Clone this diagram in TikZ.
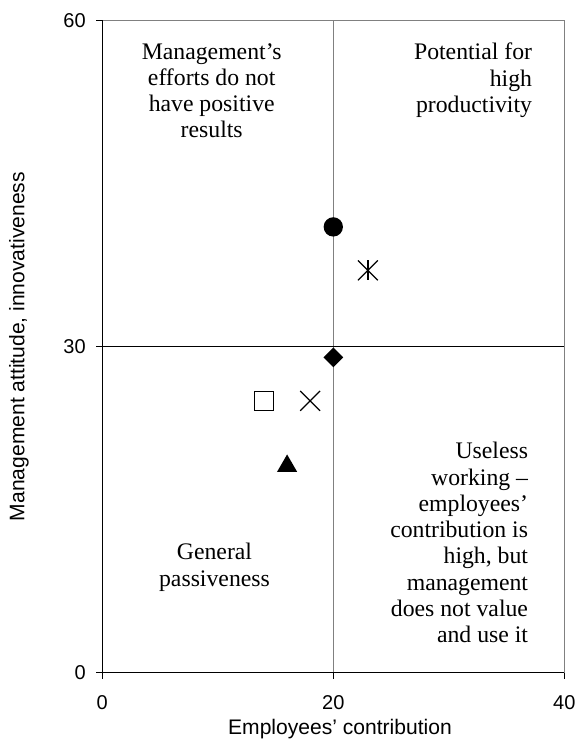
\documentclass[tikz,border=0pt]{standalone}
\usepackage{fontspec}
\setmainfont{Liberation Serif}
\newfontfamily\axfont{Liberation Sans}
\usetikzlibrary{shapes.geometric,shapes.misc}
\tikzset{
  axisline/.style={line width=0.8pt, draw=black},
  frameline/.style={line width=0.8pt, draw=black!50},
  ticklab/.style={font=\axfont\fontsize{15}{18}\selectfont, inner sep=0pt},
  axtitle/.style={font=\axfont\fontsize{15.8}{19}\selectfont, inner sep=0pt},
  quad/.style={font=\fontsize{17.8}{19.7}\selectfont, inner sep=0pt},
  mkcircle/.style={circle, fill=black, minimum size=14.5pt, inner sep=0pt},
  mksquare/.style={rectangle, draw=black, fill=white, line width=0.9pt, minimum size=14pt, inner sep=0pt},
  mkdiamond/.style={diamond, fill=black, minimum width=15pt, minimum height=15pt, inner sep=0pt},
  mktri/.style={regular polygon, regular polygon sides=3, fill=black, minimum size=17.5pt, inner sep=0pt},
  mkx/.style={cross out, draw=black, line width=0.9pt, minimum width=14pt, minimum height=14pt, inner sep=0pt},
  mkline/.style={draw=black, line width=0.9pt}
}
\begin{document}
\begin{tikzpicture}[x=0.75pt,y=-0.75pt]
\useasboundingbox[fill=white] (0,0) rectangle (575,743);
% data scope
\begin{scope}[shift={(102.3,672.7)}, x=8.6625pt, y=8.155pt]
  % frame
  \draw[frameline] (0,60) -- (40,60) -- (40,0);
  % dividing lines
  \draw[frameline] (20,0) -- (20,60);
  \draw[axisline] (0,30) -- (40,30);
  % axes
  \draw[axisline] (0,60) -- (0,0) -- (40,0);
  \foreach \yy in {0,30,60} \draw[axisline] (0,\yy) -- ++(-5pt,0);
  \foreach \xx in {0,20,40} \draw[axisline] (\xx,0) -- ++(0,-5pt);
  % markers
  \node[mkcircle] (m1) at (20,41) {};
  \node[mkx] (m2) at (23,37) {};
  \draw[mkline] (m2.north) -- (m2.south);
  \node[mkdiamond] (m3) at (20,29) {};
  \node[mksquare] (m4) at (14,25) {};
  \node[mkx] (m5) at (18,25) {};
  \node[mktri] (m6) at (16,19) {};
\end{scope}
% tick labels
\node[ticklab, anchor=east] (y0) at (86,672.7) {0};
\node[ticklab, anchor=east] (y30) at (86,346.5) {30};
\node[ticklab, anchor=east] (y60) at (86,20.3) {60};
\node[ticklab] (x0) at (102.3,703) {0};
\node[ticklab] (x20) at (333.3,703) {20};
\node[ticklab] (x40) at (564.3,703) {40};
% axis titles
\node[axtitle] (xt) at (340,729) {Employees’ contribution};
\node[axtitle, rotate=90] (yt) at (19,346.5) {Management attitude, innovativeness};
% quadrant texts
\node[quad, align=center, anchor=north] (tl) at (211.7,43) {Management’s\\efforts do not\\have positive\\results};
\node[quad, align=right, anchor=north east] (tr) at (532.3,43) {Potential for\\high\\productivity};
\node[quad, align=right, anchor=north east] (br) at (528.3,442) {Useless\\working –\\employees’\\contribution is\\high, but\\management\\does not value\\and use it};
\node[quad, align=center, anchor=north] (bl) at (214.5,543) {General\\passiveness};
\end{tikzpicture}
\end{document}
